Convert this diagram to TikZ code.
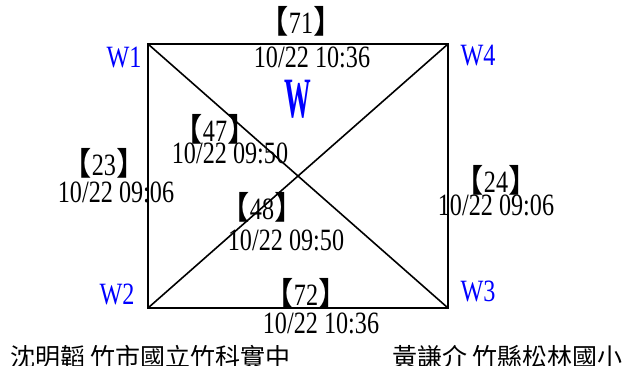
\documentclass[tikz,border=0pt]{standalone}
\usepackage{fontspec}
\setmainfont{Liberation Serif}[FakeStretch=0.78]
\newfontfamily\cjk{Noto Sans CJK TC}
\newfontfamily\brkfont{Noto Sans CJK TC}[FakeStretch=0.95]

\newcommand{\idx}[1]{{\brkfont\fontsize{32}{32}\selectfont 【}#1{\brkfont\fontsize{32}{32}\selectfont 】}}

\begin{document}
\begin{tikzpicture}[
	x=1pt, y=-1pt,
	num/.style={
		inner sep=0pt,
		font=\fontsize{31}{31}\selectfont
	},
	stamp/.style={
		inner sep=0pt,
		font=\fontsize{31}{31}\selectfont
	},
	corner/.style={
		inner sep=0pt,
		text=blue,
		font=\fontsize{31}{31}\selectfont
	},
	author/.style={
		inner sep=0pt,
		anchor=west,
		font=\cjk\fontsize{25}{26}\selectfont
	},
	edge/.style={line width=1.6pt, black}
]
\useasboundingbox (0,0) rectangle (638,365);

\coordinate (c1) at (148,44);
\coordinate (c4) at (448,44);
\coordinate (c2) at (148,308);
\coordinate (c3) at (448,308);

\node[corner] (w1) at (124,57) {W1};
\node[corner] (w4) at (478,56) {W4};
\node[corner] (w2) at (117,294) {W2};
\node[corner] (w3) at (478,291) {W3};
\node[inner sep=0pt, text=blue, font=\bfseries\fontsize{57}{58}\selectfont] (ww) at (298,99) {\scalebox{0.6}[1]{W}};

\draw[edge] (c1) -- (c4) -- (c3) -- (c2) -- cycle;
\draw[edge] (c1) -- (c3);
\draw[edge] (c2) -- (c4);

\node[num] (n71) at (301,21) {\idx{71}};
\node[stamp] (s71) at (312,57) {10/22 10:36};
\node[num] (n47) at (215,129) {\idx{47}};
\node[stamp] (s47) at (230,153) {10/22 09:50};
\node[num] (n23) at (104,163) {\idx{23}};
\node[stamp] (s23) at (116,192) {10/22 09:06};
\node[num] (n24) at (496,180) {\idx{24}};
\node[stamp] (s24) at (496,205) {10/22 09:06};
\node[num] (n48) at (262,207) {\idx{48}};
\node[stamp] (s48) at (286,240) {10/22 09:50};
\node[num] (n72) at (306,293) {\idx{72}};
\node[stamp] (s72) at (321,323) {10/22 10:36};

\node[author] (a1) at (10,357) {沈明韜 竹市國立竹科實中};
\node[author] (a2) at (392,357) {黃謙介 竹縣松林國小};
\end{tikzpicture}
\end{document}
